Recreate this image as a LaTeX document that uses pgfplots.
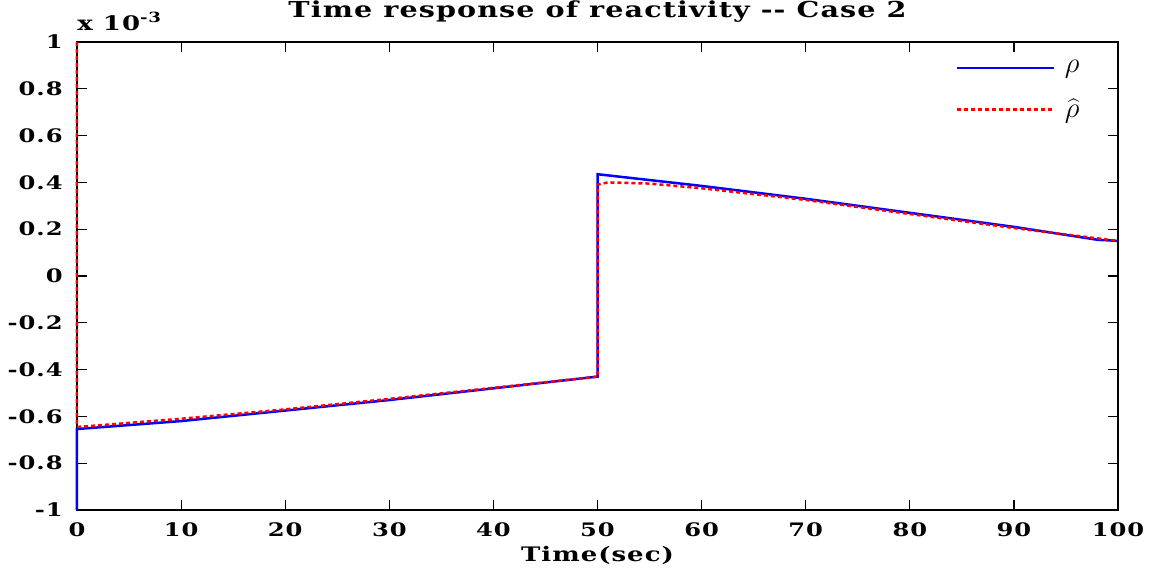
\documentclass[border=0pt]{standalone}
\usepackage{pgfplots}
\pgfplotsset{compat=1.18}
\usepackage{fontspec}
\setmainfont{DejaVu Serif}[FakeStretch=1.3, LetterSpace=5]
\begin{document}
\begin{tikzpicture}
\begin{axis}[
  name=ax,
  scale only axis,
  width=520.5pt, height=234pt,
  xmin=0, xmax=100, ymin=-1, ymax=1,
  xtick={0,10,...,100},
  ytick={-1,-0.8,-0.6,-0.4,-0.2,0,0.2,0.4,0.6,0.8,1},
  yticklabels={-1,-0.8,-0.6,-0.4,-0.2,0,0.2,0.4,0.6,0.8,1},
  xticklabels={0,10,20,30,40,50,60,70,80,90,100},
  tick align=inside,
  tick pos=both,
  major tick length=5pt,
  axis line style={line width=0.6pt},
  tick style={line width=0.6pt,black},
  tick label style={font=\bfseries\fontsize{9.3}{11}\selectfont, inner sep=0pt},
  xticklabel style={anchor=base, yshift=-13pt},
  yticklabel style={anchor=east, xshift=-7pt},
  xlabel={\bfseries\fontsize{10}{12}\selectfont Time(sec)},
  xlabel style={at={(axis description cs:0.5,0)}, anchor=base, yshift=-25.5pt, inner sep=0pt},
  title={\bfseries\fontsize{11}{13}\selectfont Time response of reactivity -{}- Case 2},
  title style={at={(axis description cs:0.5,1)}, anchor=base, yshift=6pt, inner sep=0pt},
  legend style={draw=none, fill=none, inner sep=0pt, at={(rel axis cs:0.8434,0.962)}, anchor=north west, font=\fontsize{14}{16}\selectfont, row sep=11.6pt, nodes={inner sep=0pt}},
  legend cell align=left,
  legend image code/.code={\draw[#1] (0pt,0pt) -- (48.5pt,0pt);},
  clip=false,
]
\addplot[blue, line width=1.25pt] coordinates {
(0,-1) (0,-0.654) (10,-0.62) (20,-0.575) (30,-0.53) (40,-0.48) (50,-0.43)
(50,0.435) (51,0.43) (55,0.41) (60,0.385) (70,0.33) (80,0.27) (90,0.21) (98,0.155) (100,0.15)};
\addlegendentry{\hspace{5pt}$\rho$}
\addplot[red, line width=1.25pt, dash pattern=on 2pt off 1.5pt] coordinates {
(0,1) (0,-0.645) (1,-0.642) (10,-0.61) (20,-0.57) (30,-0.525) (40,-0.478) (50,-0.43)
(50,0.39) (51,0.40) (55,0.395) (60,0.375) (70,0.325) (80,0.265) (90,0.205) (100,0.15)};
\addlegendentry{\hspace{5pt}$\widehat{\rho}$}
\node[anchor=base west, inner sep=0pt, font=\bfseries\fontsize{10}{12}\selectfont] at ([yshift=6pt]rel axis cs:0,1) {x 10\textsuperscript{-3}};
\end{axis}
\pgfresetboundingbox
\path[use as bounding box] ([shift={(-38.5pt,-29.5pt)}]ax.south west) rectangle ([shift={(16pt,21pt)}]ax.north east);
\end{tikzpicture}
\end{document}
